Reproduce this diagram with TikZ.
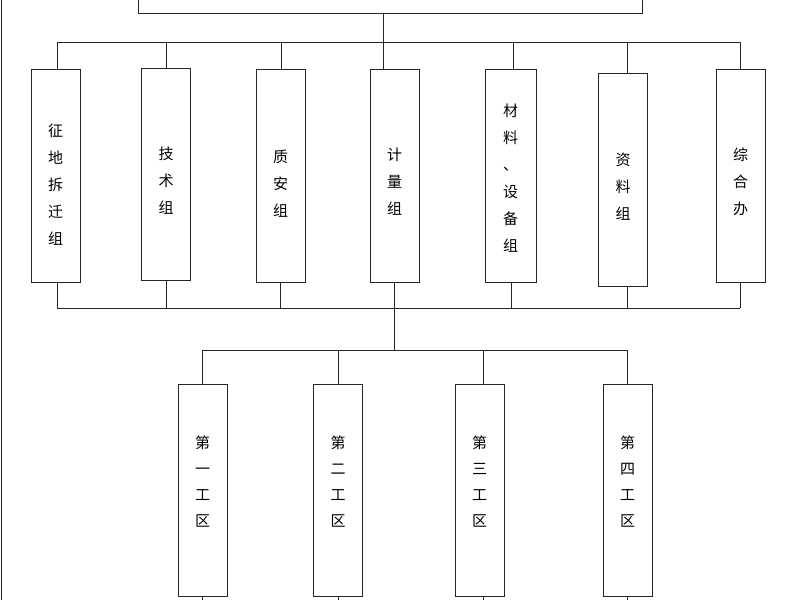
\documentclass[tikz,border=0pt]{standalone}
\usepackage{fontspec}
\newfontfamily\cjk{Noto Sans CJK SC}
\begin{document}
\begin{tikzpicture}[x=1pt,y=-1pt,
  line/.style={draw=black!85,line width=1pt},
  box/.style={line,rectangle,inner sep=0pt,minimum width=49pt},
  txt/.style={align=center,inner sep=0pt,font=\cjk\fontsize{15}{27}\selectfont},
  ltxt/.style={txt,font=\cjk\fontsize{15}{26}\selectfont}]
\useasboundingbox (0,0) rectangle (800,600);
\draw[line] (1,0) -- (1,600);
\node[line,rectangle,minimum width=504pt,minimum height=40pt,inner sep=0pt] (top) at (390,-7) {};
% upper boxes
\node[box,minimum height=213pt] (b1) at (55.5,175.5) {};
\node[box,minimum height=212pt] (b2) at (166,174) {};
\node[box,minimum height=213pt] (b3) at (280.5,175.5) {};
\node[box,minimum height=213pt] (b4) at (394.5,175.5) {};
\node[box,minimum height=213pt,minimum width=51pt] (b5) at (510.5,175.5) {};
\node[box,minimum height=213pt] (b6) at (623,179.5) {};
\node[box,minimum height=213pt] (b7) at (740.5,175.5) {};
\node[txt] (tb1) at (55.5,185) {征\\地\\拆\\迁\\组};
\node[txt] (tb2) at (166,181) {技\\术\\组};
\node[txt] (tb3) at (280.5,184) {质\\安\\组};
\node[txt] (tb4) at (394.5,182) {计\\量\\组};
\node[txt] (tb5) at (510.5,178) {材\\料\\、\\设\\备\\组};
\node[txt] (tb6) at (623,187) {资\\料\\组};
\node[txt] (tb7) at (740.5,182) {综\\合\\办};
% lower boxes
\node[box,minimum height=212pt] (c1) at (202.5,490) {};
\node[box,minimum height=212pt] (c2) at (338,490) {};
\node[box,minimum height=212pt] (c3) at (479.5,490) {};
\node[box,minimum height=212pt] (c4) at (627.5,490) {};
\node[ltxt] (tc1) at (202.5,482) {第\\一\\工\\区};
\node[ltxt] (tc2) at (338,482) {第\\二\\工\\区};
\node[ltxt] (tc3) at (479.5,482) {第\\三\\工\\区};
\node[ltxt] (tc4) at (627.5,482) {第\\四\\工\\区};
\coordinate (t) at (383,42);
\coordinate (m) at (394,308);
\coordinate (l) at (394,350);
% top connectors
\draw[line] (top.south -| t) -- (t);
\draw[line] (57,42) -- (740,42);
\foreach \b/\x in {b1/57,b2/166,b3/281,b4/383,b5/513,b6/627,b7/740}
  \draw[line] (\x,42) -- (\b.north -| \x,0);
% middle bus
\draw[line] (57,308) -- (740,308);
\foreach \b/\x in {b1/57,b2/166,b3/280,b4/394,b5/511,b6/627,b7/740}
  \draw[line] (\b.south -| \x,0) -- (\x,308);
\draw[line] (m) -- (l);
\draw[line] (202,350) -- (627,350);
\foreach \b/\x in {c1/202,c2/338,c3/483,c4/627}{
  \draw[line] (\x,350) -- (\b.north -| \x,0);
  \draw[line] (\b.south -| \x,0) -- (\x,600);}
\end{tikzpicture}
\end{document}
